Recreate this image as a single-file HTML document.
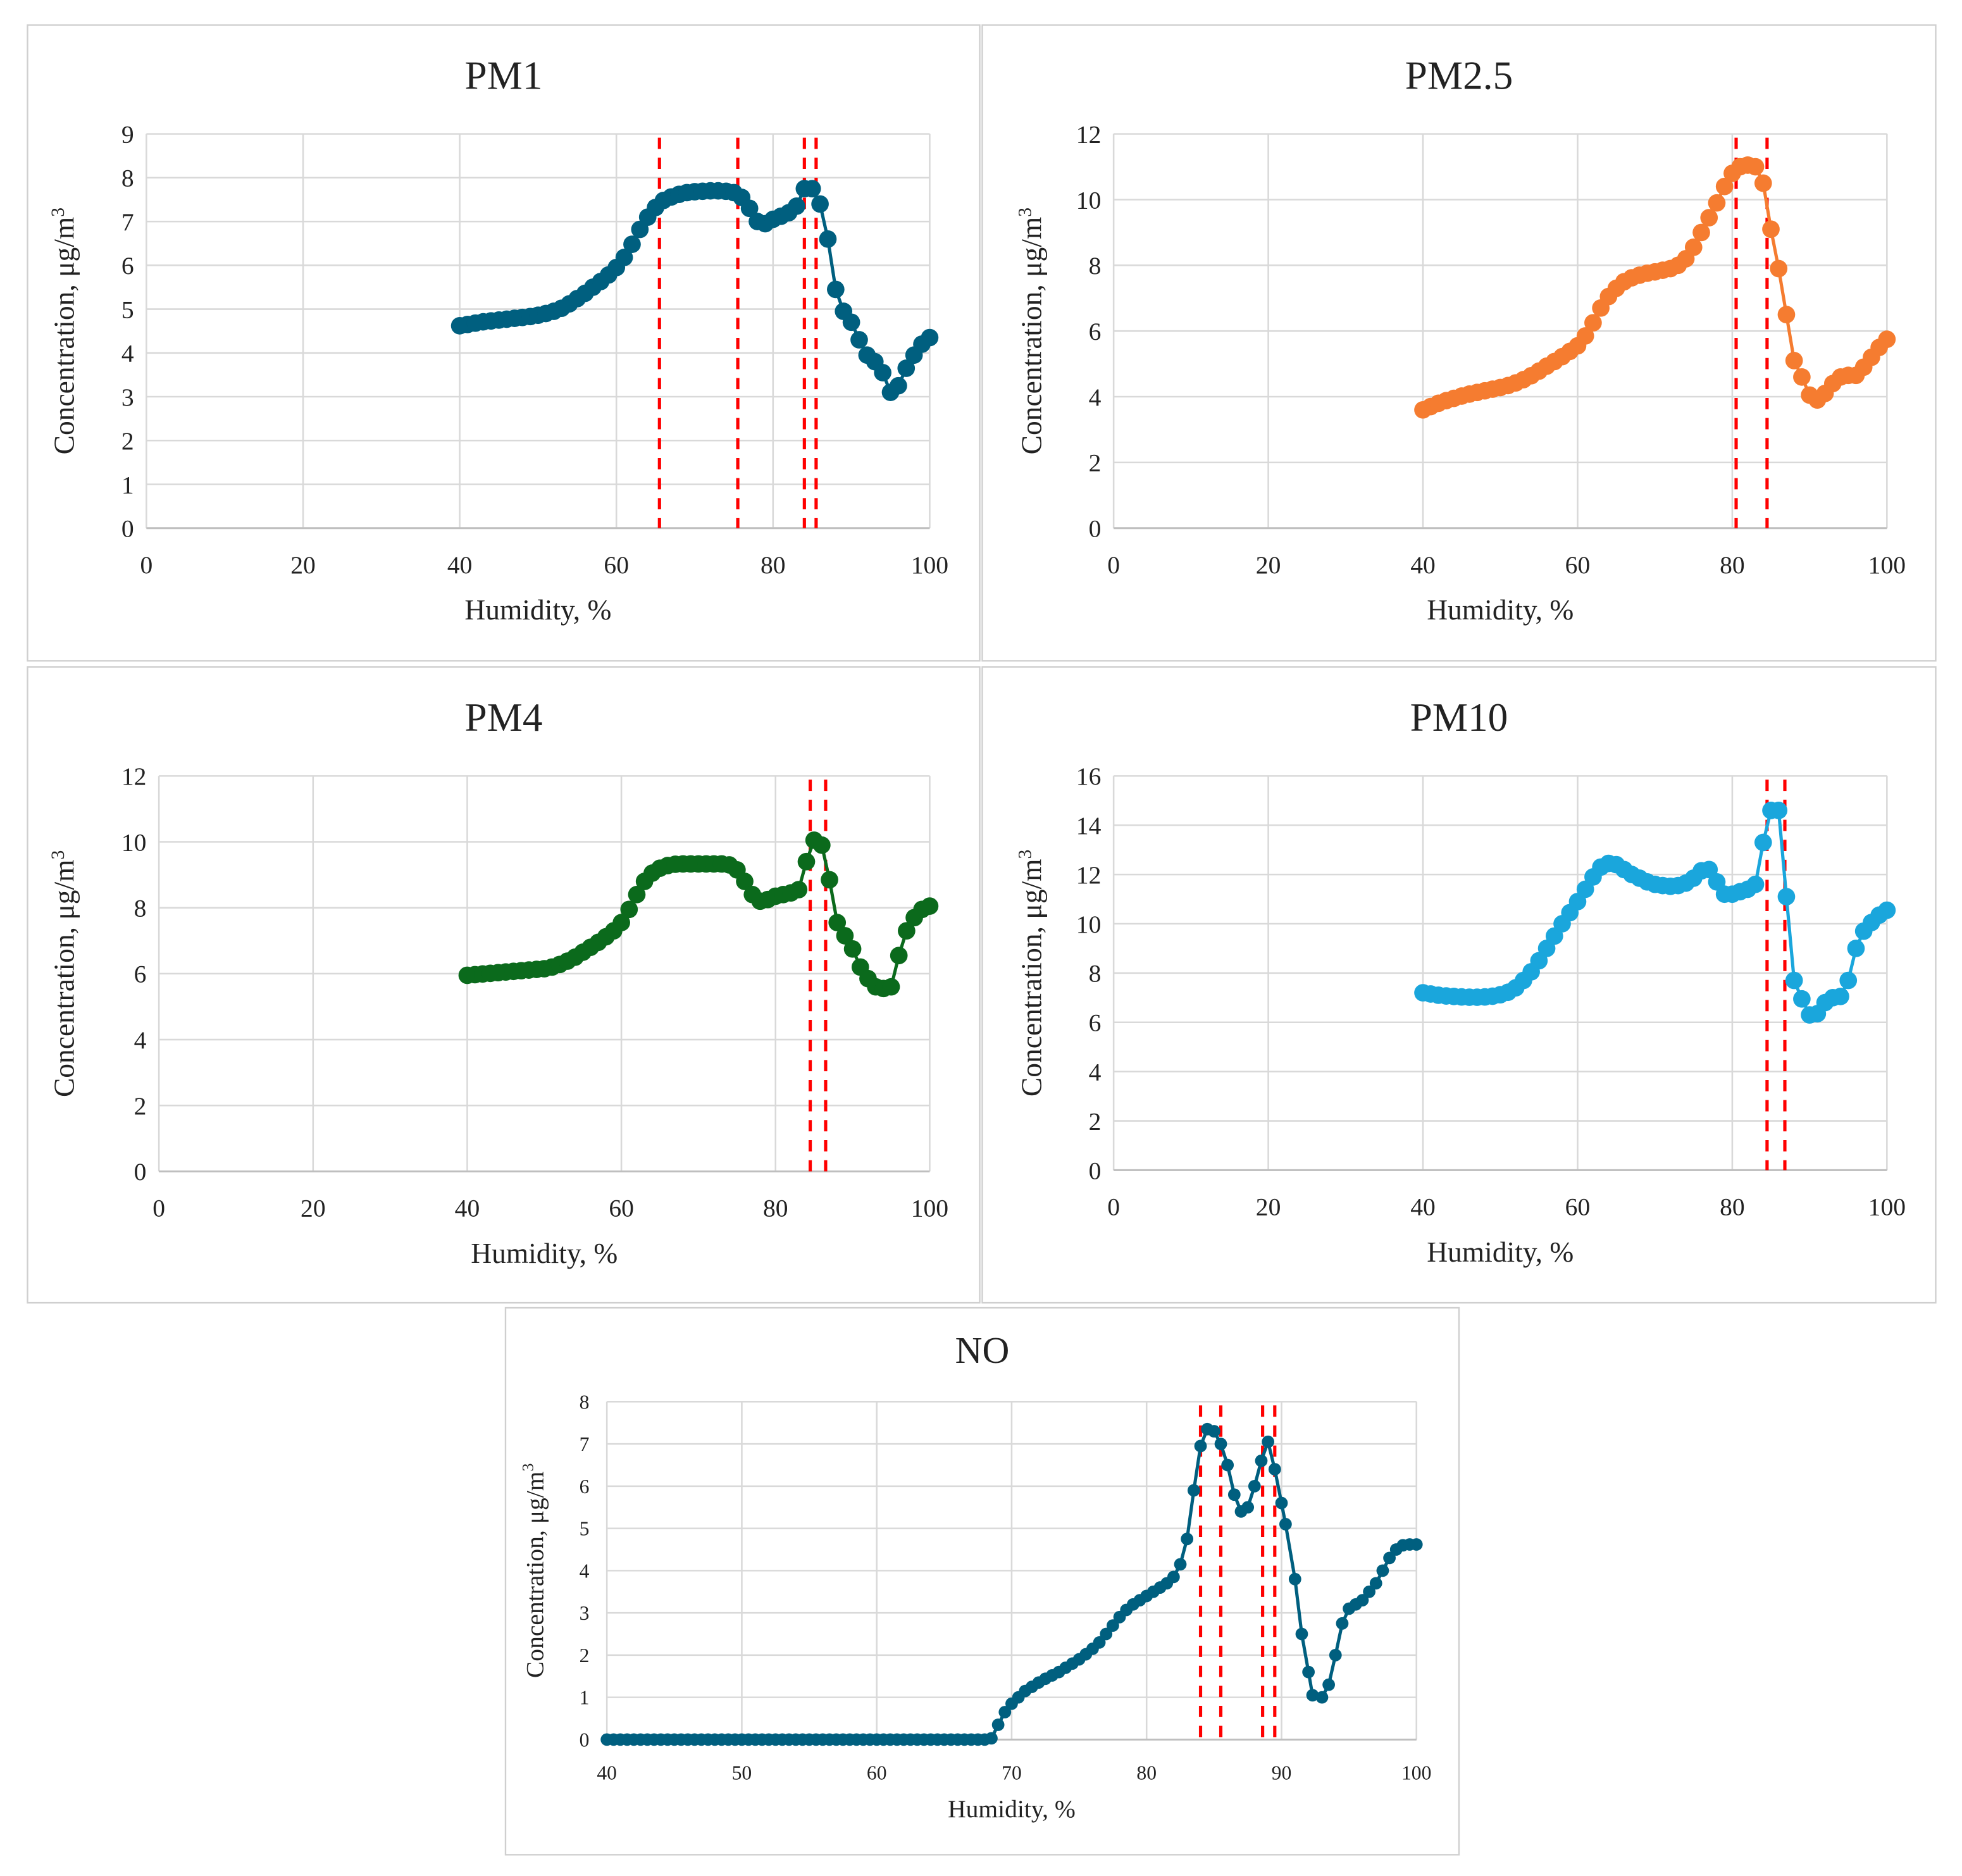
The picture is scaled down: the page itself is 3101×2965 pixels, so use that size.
<!DOCTYPE html>
<html><head><meta charset="utf-8"><style>
html,body{margin:0;padding:0;background:#fff}
svg{display:block}
text{font-family:"Liberation Serif",serif;fill:#222}
</style></head><body>
<svg id="chart" width="3101" height="2965" viewBox="0 0 1568 1499" preserveAspectRatio="none" xmlns="http://www.w3.org/2000/svg"></svg>
<script>
// ---- data ----
const pm1X = [40,41,42,43,44,45,46,47,48,49,50,51,52,53,54,55,56,57,58,59,60,61,62,63,64,65,66,67,68,69,70,71,72,73,74,75,76,77,78,79,80,81,82,83,84,85,86,87,88,89,90,91,92,93,94,95,96,97,98,99,100];
const pm1Y = [4.62,4.65,4.68,4.71,4.73,4.75,4.77,4.79,4.81,4.83,4.86,4.9,4.95,5.02,5.12,5.24,5.36,5.5,5.63,5.78,5.95,6.18,6.48,6.82,7.1,7.32,7.48,7.56,7.62,7.66,7.68,7.69,7.7,7.7,7.69,7.66,7.55,7.3,7.0,6.95,7.05,7.12,7.2,7.35,7.75,7.75,7.4,6.6,5.45,4.95,4.7,4.3,3.95,3.8,3.55,3.1,3.25,3.65,3.95,4.2,4.35];
const pm1Red = [65.5,75.5,84,85.5];
const pm1YTicks = [0,1,2,3,4,5,6,7,8,9];

const pm25X = pm1X;
const pm25Y = [3.6,3.7,3.8,3.88,3.95,4.02,4.08,4.13,4.18,4.23,4.28,4.34,4.42,4.52,4.64,4.78,4.93,5.07,5.22,5.38,5.55,5.85,6.25,6.7,7.05,7.3,7.5,7.62,7.7,7.76,7.8,7.85,7.9,8.0,8.2,8.55,9.0,9.45,9.9,10.4,10.8,11.0,11.05,11.0,10.5,9.1,7.9,6.5,5.1,4.6,4.05,3.9,4.1,4.4,4.6,4.65,4.65,4.9,5.2,5.5,5.75];
const pm25Red = [80.5,84.5];
const pm25YTicks = [0,2,4,6,8,10,12];

const pm4X = pm1X;
const pm4Y = [5.95,5.97,5.99,6.01,6.03,6.05,6.07,6.09,6.11,6.13,6.15,6.2,6.28,6.38,6.5,6.65,6.8,6.95,7.12,7.3,7.55,7.95,8.4,8.8,9.05,9.2,9.28,9.32,9.33,9.33,9.33,9.33,9.33,9.33,9.3,9.15,8.8,8.4,8.2,8.25,8.35,8.4,8.45,8.55,9.4,10.05,9.9,8.85,7.55,7.15,6.75,6.2,5.85,5.6,5.55,5.6,6.55,7.3,7.7,7.95,8.05];
const pm4Red = [84.5,86.5];
const pm4YTicks = [0,2,4,6,8,10,12];

const pm10X = pm1X;
const pm10Y = [7.2,7.15,7.1,7.07,7.05,7.03,7.02,7.02,7.03,7.06,7.12,7.22,7.4,7.7,8.05,8.5,9.0,9.5,10.0,10.45,10.9,11.4,11.9,12.3,12.45,12.4,12.2,12.0,11.85,11.7,11.6,11.55,11.52,11.55,11.65,11.85,12.15,12.2,11.7,11.2,11.2,11.3,11.4,11.6,13.3,14.6,14.6,11.1,7.7,6.95,6.3,6.35,6.8,7.0,7.05,7.7,9.0,9.7,10.05,10.35,10.55];
const pm10Red = [84.5,86.8];
const pm10YTicks = [0,2,4,6,8,10,12,14,16];

const noX = [40,40.5,41,41.5,42,42.5,43,43.5,44,44.5,45,45.5,46,46.5,47,47.5,48,48.5,49,49.5,50,50.5,51,51.5,52,52.5,53,53.5,54,54.5,55,55.5,56,56.5,57,57.5,58,58.5,59,59.5,60,60.5,61,61.5,62,62.5,63,63.5,64,64.5,65,65.5,66,66.5,67,67.5,68,68.5,69,69.5,70,70.5,71,71.5,72,72.5,73,73.5,74,74.5,75,75.5,76,76.5,77,77.5,78,78.5,79,79.5,80,80.5,81,81.5,82,82.5,83,83.5,84,84.5,85,85.5,86,86.5,87,87.5,88,88.5,89,89.5,90,90.3,91,91.5,92,92.3,93,93.5,94,94.5,95,95.5,96,96.5,97,97.5,98,98.5,99,99.5,100];
const noY = [0,0,0,0,0,0,0,0,0,0,0,0,0,0,0,0,0,0,0,0,0,0,0,0,0,0,0,0,0,0,0,0,0,0,0,0,0,0,0,0,0,0,0,0,0,0,0,0,0,0,0,0,0,0,0,0,0,0.03,0.35,0.65,0.85,1.0,1.15,1.25,1.35,1.44,1.52,1.6,1.7,1.8,1.9,2.02,2.15,2.3,2.5,2.7,2.9,3.07,3.2,3.3,3.4,3.5,3.6,3.7,3.85,4.15,4.75,5.9,6.95,7.35,7.3,7.0,6.5,5.8,5.4,5.5,6.0,6.6,7.05,6.4,5.6,5.1,3.8,2.5,1.6,1.05,1.0,1.3,2.0,2.75,3.1,3.2,3.3,3.5,3.7,4.0,4.3,4.5,4.6,4.62,4.62];
const noRed = [84,85.5,88.6,89.5];
const noYTicks = [0,1,2,3,4,5,6,7,8];
const noXTicks = [40,50,60,70,80,90,100];
const pmXTicks = [0,20,40,60,80,100];

// ---- drawing ----
const svg = document.getElementById('chart');
const NS = 'http://www.w3.org/2000/svg';
function mk(tag, attrs, parent){
  const e = document.createElementNS(NS, tag);
  for (const k in attrs) e.setAttribute(k, attrs[k]);
  (parent||svg).appendChild(e);
  return e;
}

function panel(cfg){
  const g = mk('g', {});
  
  
  const box = mk('rect', {x:cfg.bx, y:cfg.by, width:cfg.bw, height:cfg.bh, fill:'#fff', stroke:'#cfcfcf', 'stroke-width':1.2}, g);
  
  
  const xs = v => cfg.px + (v - cfg.xmin)/(cfg.xmax - cfg.xmin)*cfg.pw;
  const ys = v => cfg.py + cfg.ph - (v - cfg.ymin)/(cfg.ymax - cfg.ymin)*cfg.ph;
  cfg.yTicks.forEach(t => {
    const l = mk('line', {x1:cfg.px, x2:cfg.px+cfg.pw, y1:ys(t), y2:ys(t), stroke:'#d9d9d9', 'stroke-width':1.3}, g);
    
    
    const tx = mk('text', {x:cfg.px-cfg.ytOff, y:ys(t)+cfg.fs*0.35, 'text-anchor':'end', 'font-size':cfg.fs}, g);
    tx.textContent = t;
    
    
  });
  cfg.xTicks.forEach(t => {
    const l = mk('line', {x1:xs(t), x2:xs(t), y1:cfg.py, y2:cfg.py+cfg.ph, stroke:'#d9d9d9', 'stroke-width':1.3}, g);
    
    
    const tx = mk('text', {x:xs(t), y:cfg.py+cfg.ph+cfg.xtOff, 'text-anchor':'middle', 'font-size':cfg.fs}, g);
    tx.textContent = t;
    
    
  });
  const ax = mk('line', {x1:cfg.px, x2:cfg.px+cfg.pw, y1:cfg.py+cfg.ph, y2:cfg.py+cfg.ph, stroke:'#bfbfbf', 'stroke-width':1.5}, g);
  
  
  const ti = mk('text', {x:cfg.bx+cfg.bw/2, y:cfg.titleY, 'text-anchor':'middle', 'font-size':cfg.tfs}, g);
  ti.textContent = cfg.title;
  
  
  const xt = mk('text', {x:cfg.px+cfg.pw/2, y:cfg.py+cfg.ph+cfg.xTitleOff, 'text-anchor':'middle', 'font-size':cfg.afs}, g);
  xt.textContent = 'Humidity, %';
  
  
  const yx = cfg.px - cfg.yTitleOff, yy = cfg.py + cfg.ph/2;
  const yt = mk('text', {x:yx, y:yy, 'text-anchor':'middle', 'font-size':cfg.afs, transform:`rotate(-90 ${yx} ${yy})`}, g);
  yt.innerHTML = 'Concentration, μg/m<tspan dy="-8" font-size="' + (cfg.afs*0.65) + '">3</tspan>';
  
  
  cfg.red.forEach(r => {
    const l = mk('line', {x1:xs(r), x2:xs(r), y1:cfg.py+3, y2:cfg.py+cfg.ph, stroke:'#ff0000', 'stroke-width':2.6, 'stroke-dasharray':'9,7'}, g);
    
    
  });
  const d = cfg.X.map((x,i) => (i?'L':'M') + xs(x).toFixed(2) + ' ' + ys(cfg.Y[i]).toFixed(2)).join(' ');
  const p = mk('path', {d:d, fill:'none', stroke:cfg.color, 'stroke-width':2.6}, g);
  
  
  cfg.X.forEach((x,i) => {
    const c = mk('circle', {cx:xs(x), cy:ys(cfg.Y[i]), r:cfg.r, fill:cfg.color}, g);
    
    
  });
}

const big = {xmin:0, xmax:100, ymin:0, fs:20, tfs:32, afs:23, ytOff:10, xtOff:36, xTitleOff:73, yTitleOff:58, r:7, titleY:0};
panel(Object.assign({}, big, {name:'pm1', title:'PM1', bx:22, by:20, bw:761, bh:508, px:117, py:107, pw:626, ph:315, ymax:9, yTicks:pm1YTicks, xTicks:pmXTicks, X:pm1X, Y:pm1Y, red:pm1Red, color:'#005f7f', titleY:71}));
panel(Object.assign({}, big, {name:'pm25', title:'PM2.5', bx:785, by:20, bw:762, bh:508, px:890, py:107, pw:618, ph:315, ymax:12, yTicks:pm25YTicks, xTicks:pmXTicks, X:pm25X, Y:pm25Y, red:pm25Red, color:'#f57c30', titleY:71}));
panel(Object.assign({}, big, {name:'pm4', title:'PM4', bx:22, by:533, bw:761, bh:508, px:127, py:620, pw:616, ph:316, ymax:12, yTicks:pm4YTicks, xTicks:pmXTicks, X:pm4X, Y:pm4Y, red:pm4Red, color:'#0b6a1c', titleY:584, yTitleOff:68}));
panel(Object.assign({}, big, {name:'pm10', title:'PM10', bx:785, by:533, bw:762, bh:508, px:890, py:620, pw:618, ph:315, ymax:16, yTicks:pm10YTicks, xTicks:pmXTicks, X:pm10X, Y:pm10Y, red:pm10Red, color:'#1aa6dc', titleY:584}));
panel({name:'no', title:'NO', bx:404, by:1045, bw:762, bh:437, px:485, py:1120, pw:647, ph:270, xmin:40, xmax:100, ymin:0, ymax:8, yTicks:noYTicks, xTicks:noXTicks, X:noX, Y:noY, red:noRed, color:'#005f7f', fs:16, tfs:30, afs:20, ytOff:14, xtOff:32, xTitleOff:62, yTitleOff:51, r:5, titleY:1089});
</script>
</body></html>
